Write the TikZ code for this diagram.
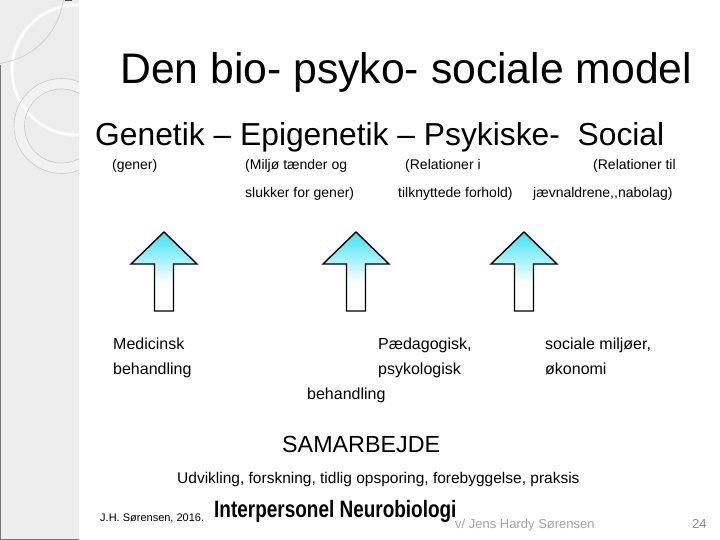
\documentclass[tikz,border=0pt]{standalone}
\usepackage{fontspec}
\setmainfont{Liberation Sans}
\newfontfamily\narrowbold[FakeStretch=0.8]{Liberation Sans Bold}
\definecolor{panelgrey}{RGB}{237,237,237}
\definecolor{ringgrey}{RGB}{200,200,200}
\definecolor{footgrey}{RGB}{140,140,140}
\definecolor{arrowcyan}{RGB}{60,228,244}
\pgfdeclareverticalshading{arrowfade}{100bp}{color(0bp)=(white); color(25bp)=(white); color(43bp)=(white); color(75bp)=(arrowcyan); color(100bp)=(arrowcyan)}
\begin{document}
\begin{tikzpicture}[x=1pt,y=-1pt]
    \tikzset{lbl/.style = {anchor=base west, inner sep=0pt, font=\fontsize{14}{16}\selectfont}}
    \tikzset{treat/.style = {anchor=base west, inner sep=0pt, font=\fontsize{16}{18}\selectfont}}
    \tikzset{blockarrow/.style = {draw=black, line width=1.4pt, line join=miter, shading=arrowfade}}
    \useasboundingbox (0,0) rectangle (720,540);
    \fill[white] (0,0) rectangle (720,540);
    % side panel
    \fill[panelgrey] (0,0) rectangle (79,540);
    \begin{scope}
    \clip (0,0) rectangle (79,540);
    \fill[black!5, even odd rule] (61.5,126) circle (47.5) (61.5,126) circle (37);
    \draw[white, line width=4pt, opacity=0.5] (77,70) circle (65);
    \draw[white, line width=1.5pt] (77,70) circle (65);
    \draw[ringgrey, line width=0.6pt] (-10,-10) circle (74);
    \draw[ringgrey, line width=0.6pt] (61.5,126) circle (47.5);
    \draw[ringgrey, line width=0.6pt] (61.5,126) circle (37);
    \end{scope}
    \draw[black!55, line width=1.2pt] (0.6,65) -- (0.6,539.4) -- (79,539.4);
    \draw[black!70, line width=1.5pt] (65,0.7) -- (72,0.7);
    % headings
    \node[anchor=base west, inner sep=0pt, font=\fontsize{42.7}{46}\selectfont] (title) at (120,84) {Den bio- psyko- sociale model};
    \node[anchor=base west, inner sep=0pt, font=\fontsize{31.8}{36}\selectfont] (levels) at (95,146) {Genetik -- Epigenetik -- Psykiske-\ \ Social};
    % what each level is about
    \node[lbl] (gen) at (112,170) {(gener)};
    \node[lbl] (epi1) at (245,170) {(Miljø tænder og};
    \node[lbl] (epi2) at (245,197) {slukker for gener)};
    \node[lbl] (psy1) at (405,170) {(Relationer i};
    \node[lbl] (psy2) at (398,197) {tilknyttede forhold)};
    \node[lbl] (soc1) at (593,170) {(Relationer til};
    \node[lbl] (soc2) at (533,197) {jævnaldrene,{},nabolag)};
    % block arrows
    \draw[blockarrow] (164,232) -- ++(33,32) -- ++(-23.5,0) -- ++(0,47) -- ++(-19,0) -- ++(0,-47) -- ++(-23.5,0) -- cycle;
    \draw[blockarrow] (356,232) -- ++(33,32) -- ++(-23.5,0) -- ++(0,47) -- ++(-19,0) -- ++(0,-47) -- ++(-23.5,0) -- cycle;
    \draw[blockarrow] (524,232) -- ++(33,32) -- ++(-23.5,0) -- ++(0,47) -- ++(-19,0) -- ++(0,-47) -- ++(-23.5,0) -- cycle;
    % treatments
    \node[treat] (med1) at (113,349) {Medicinsk};
    \node[treat] (med2) at (113,374) {behandling};
    \node[treat] (ped1) at (378,349) {Pædagogisk,};
    \node[treat] (ped2) at (378,374) {psykologisk};
    \node[treat] (ped3) at (307,399) {behandling};
    \node[treat] (env1) at (545,349) {sociale miljøer,};
    \node[treat] (env2) at (545,374) {økonomi};
    % bottom lines
    \node[anchor=base west, inner sep=0pt, font=\fontsize{23.3}{26}\selectfont] (samarb) at (282,452) {SAMARBEJDE};
    \node[anchor=base west, inner sep=0pt, font=\fontsize{15.5}{18}\selectfont] (fields) at (177,483) {Udvikling, forskning, tidlig opsporing, forebyggelse, praksis};
    \node[anchor=base west, inner sep=0pt, font=\fontsize{23.7}{26}\narrowbold] (neuro) at (214,517) {Interpersonel Neurobiologi};
    \node[anchor=base west, inner sep=0pt, font=\fontsize{11}{13}\selectfont] (ref) at (100,521) {J.H. Sørensen, 2016.};
    \node[anchor=base west, inner sep=0pt, font=\fontsize{13}{15}\selectfont, text=footgrey!80] (author) at (455,528) {v/ Jens Hardy Sørensen};
    \node[anchor=base west, inner sep=0pt, font=\fontsize{13}{15}\selectfont, text=footgrey] (page) at (692,528) {24};
\end{tikzpicture}
\end{document}
